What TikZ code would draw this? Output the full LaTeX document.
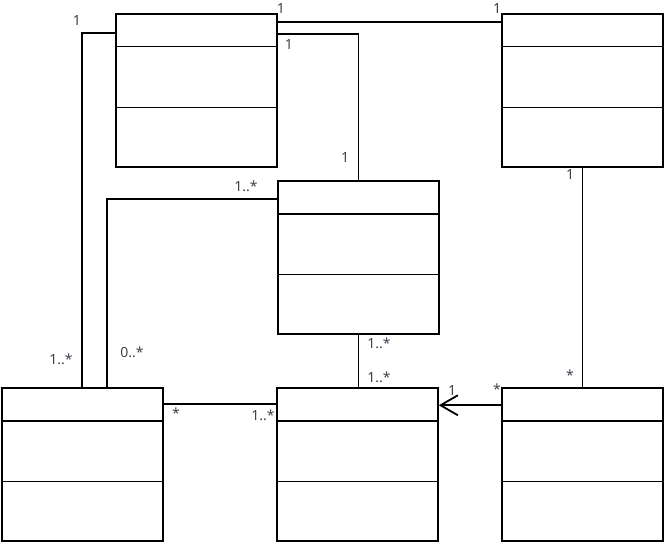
\documentclass[tikz,border=0pt]{standalone}
\usepackage{fontspec}
\setmainfont{Noto Sans}
\usetikzlibrary{calc,arrows.meta}
\definecolor{lbl}{HTML}{3A414D}
\tikzset{
  cls/.style={draw=black, line width=1.1pt, rectangle, minimum width=120.75pt, minimum height=114.75pt, inner sep=0pt, fill=white},
  conn/.style={draw=black, line width=1.35pt},
  mult/.style={text=lbl, font=\fontsize{10.5pt}{12pt}\selectfont, inner sep=0pt},
}
\begin{document}
\begin{tikzpicture}[x=0.75pt,y=-0.75pt]
\useasboundingbox (0,0) rectangle (664,542);
% classes
\node[cls] (A) at (196.5,90.5) {};
\node[cls] (B) at (582.5,90.5) {};
\node[cls] (C) at (358.5,257.5) {};
\node[cls] (D) at (82.5,464.5) {};
\node[cls] (E) at (357.5,464.5) {};
\node[cls] (F) at (582.5,464.5) {};
\foreach \n in {A,B,C,D,E,F}{
  \draw[draw=black, line width=1.1pt] ($(\n.north west)+(0,33.5)$) -- ($(\n.north east)+(0,33.5)$);
  \draw[draw=black, line width=1.1pt] ($(\n.north west)+(0,94)$) -- ($(\n.north east)+(0,94)$);
}
% connectors
\draw[conn] ($(A.north east)+(0,9)$) -- ($(B.north west)+(0,9)$);
\draw[conn] ($(A.north east)+(0,21)$) -| (C.north);
\draw[conn] ($(A.north west)+(0,20)$) -| ($(D.north west)+(81,0)$);
\draw[conn] ($(C.north west)+(0,19)$) -| ($(D.north west)+(106,0)$);
\draw[conn] (C.south) -- (C.south |- E.north);
\draw[conn] ($(D.north east)+(0,17)$) -- ($(E.north west)+(0,17)$);
\draw[conn, -{Straight Barb[length=13pt,width=15pt,line width=1.35pt]}] ($(F.north west)+(0,18)$) -- ($(E.north east)+(0,18)$);
\draw[conn] (B.south) -- (F.north);
% multiplicities
\node[mult] (m1) at (77,21) {1};
\node[mult] (m2) at (281,9) {1};
\node[mult] (m3) at (289,45) {1};
\node[mult] (m4) at (497,9) {1};
\node[mult] (m5) at (345,158) {1};
\node[mult] (m6) at (246,186) {1..*};
\node[mult] (m7) at (570,175) {1};
\node[mult] (m8) at (61,359) {1..*};
\node[mult] (m9) at (132,352) {0..*};
\node[mult] (m10) at (379,343) {1..*};
\node[mult] (m11) at (379,377) {1..*};
\node[mult] (m12) at (176,413) {*};
\node[mult] (m13) at (263,415) {1..*};
\node[mult] (m14) at (452,390) {1};
\node[mult] (m15) at (497,389) {*};
\node[mult] (m16) at (570,375) {*};
\end{tikzpicture}
\end{document}
